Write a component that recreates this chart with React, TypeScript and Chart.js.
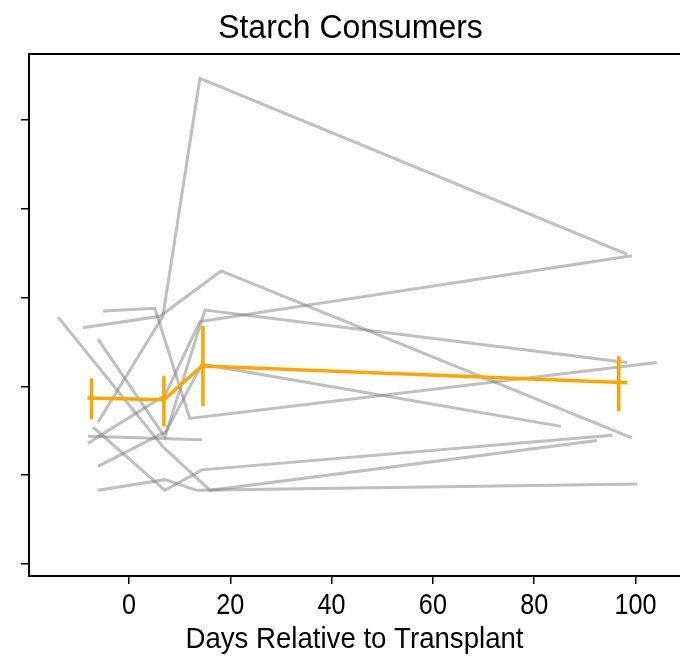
import React, { useEffect, useRef } from "react";
import { Chart, registerables } from "chart.js";

Chart.register(...registerables);

const titleText = "Starch Consumers";
const xAxisLabel = "Days Relative to Transplant";
const xTickValues = [0, 20, 40, 60, 80, 100];
const yTickValues = [0, 1, 2, 3, 4, 5];

// individual subjects (gray lines)
const p1Days = [-14.0, 6.7, 16.0, 92.4];
const p1Vals = [2.78, 1.32, 0.83, 1.39];
const p2Days = [-9.1, 6.1, 18.2, 99.3];
const p2Vals = [2.66, 2.79, 3.3, 1.42];
const p3Days = [-5.1, 5.1, 12.0, 104.2];
const p3Vals = [2.85, 2.88, 1.64, 2.27];
const p4Days = [-6.1, 7.1, 15.0, 98.3];
const p4Vals = [2.53, 1.43, 2.86, 2.27];
const p5Days = [-6.1, 6.7, 14.0, 98.3];
const p5Vals = [1.6, 2.79, 5.47, 3.49];
const p6Days = [-7.1, 7.1, 14.4, 95.4];
const p6Vals = [1.54, 0.83, 1.06, 1.45];
const p7Days = [-8.1, 14.4];
const p7Vals = [1.44, 1.4];
const p8Days = [-8.1, 7.1, 14.0, 99.3];
const p8Vals = [1.36, 1.9, 2.73, 3.47];
const p9Days = [-6.1, 7.3, 14.4, 85.3];
const p9Vals = [1.1, 1.49, 2.25, 1.55];
const p10Days = [-6.1, 7.1, 13.4, 100.3];
const p10Vals = [0.83, 0.95, 0.83, 0.9];

// group mean with error bars (orange)
const meanDays = [-8.2, 6.9, 14.4, 98.4];
const meanVals = [1.87, 1.85, 2.23, 2.04];
const errDays = [-7.4, 6.9, 14.6, 96.7];
const errLow = [1.63, 1.55, 1.78, 1.72];
const errHigh = [2.09, 2.12, 2.68, 2.34];

const subjects = [
  [p1Days, p1Vals],
  [p2Days, p2Vals],
  [p3Days, p3Vals],
  [p4Days, p4Vals],
  [p5Days, p5Vals],
  [p6Days, p6Vals],
  [p7Days, p7Vals],
  [p8Days, p8Vals],
  [p9Days, p9Vals],
  [p10Days, p10Vals],
];

const FONT = "'Liberation Sans', Arial, sans-serif";
const ORANGE = "#FFA500";

function drawNarrowText(ctx: CanvasRenderingContext2D, text: string, x: number, y: number, size: number, sx: number) {
  ctx.save();
  ctx.translate(x, y);
  ctx.scale(sx, 1);
  ctx.font = `${size}px ${FONT}`;
  ctx.fillStyle = "#000";
  ctx.textAlign = "center";
  ctx.textBaseline = "middle";
  ctx.fillText(text, 0, 0);
  ctx.restore();
}

export default function App() {
  const ref = useRef<HTMLCanvasElement | null>(null);

  useEffect(() => {
    document.body.style.margin = "0";
    document.body.style.overflow = "hidden";
    const canvas = ref.current;
    if (!canvas) return;

    const overlayPlugin = {
      id: "overlay",
      afterDatasetsDraw(chart: any) {
        const { ctx, scales, chartArea } = chart;
        ctx.save();
        ctx.strokeStyle = ORANGE;
        ctx.lineWidth = 3.5;
        for (let i = 0; i < errDays.length; i++) {
          const x = scales.x.getPixelForValue(errDays[i]);
          ctx.beginPath();
          ctx.moveTo(x, scales.y.getPixelForValue(errLow[i]));
          ctx.lineTo(x, scales.y.getPixelForValue(errHigh[i]));
          ctx.stroke();
        }
        // top spine
        ctx.strokeStyle = "#000";
        ctx.lineWidth = 2;
        ctx.beginPath();
        ctx.moveTo(chartArea.left - 1, chartArea.top);
        ctx.lineTo(chartArea.right + 2, chartArea.top);
        ctx.stroke();
        ctx.restore();
      },
      afterDraw(chart: any) {
        const { ctx, scales, chartArea } = chart;
        // x tick labels
        for (const v of xTickValues) {
          drawNarrowText(ctx, String(v), scales.x.getPixelForValue(v), chartArea.bottom + 30, 30, 0.84);
        }
        // x axis title
        drawNarrowText(ctx, xAxisLabel, (chartArea.left + chartArea.right) / 2, chartArea.bottom + 64, 30, 0.92);
        // chart title
        drawNarrowText(ctx, titleText, (chartArea.left + chartArea.right) / 2 - 4, 29, 34, 0.94);
      },
    };

    const grayDatasets = subjects.map(([d, v]) => ({
      data: d.map((x, i) => ({ x, y: v[i] })),
      borderColor: "rgba(128,128,128,0.5)",
      borderWidth: 3,
      pointRadius: 0,
      fill: false,
      tension: 0,
      order: 2,
    }));

    const chart = new Chart(canvas, {
      type: "line",
      data: {
        datasets: [
          {
            data: meanDays.map((x, i) => ({ x, y: meanVals[i] })),
            borderColor: ORANGE,
            borderWidth: 3.5,
            pointRadius: 0,
            fill: false,
            tension: 0,
            order: 0,
          } as any,
          ...grayDatasets,
        ],
      },
      options: {
        animation: false,
        responsive: false,
        maintainAspectRatio: false,
        layout: { padding: { top: 54, left: 0, right: 0, bottom: 0 } },
        plugins: {
          legend: { display: false },
          tooltip: { enabled: false },
          title: { display: false },
        },
        scales: {
          x: {
            type: "linear",
            min: -19.74,
            max: 108.79,
            afterBuildTicks: (s: any) => {
              s.ticks = xTickValues.map((v) => ({ value: v }));
            },
            afterFit: (s: any) => {
              s.height = 81;
            },
            ticks: { display: false },
            grid: {
              drawOnChartArea: false,
              drawTicks: true,
              tickLength: 8,
              color: "#000",
              lineWidth: 1.5,
            },
            border: { display: true, color: "#000", width: 2 },
          },
          y: {
            type: "linear",
            min: -0.135,
            max: 5.743,
            afterBuildTicks: (s: any) => {
              s.ticks = yTickValues.map((v) => ({ value: v }));
            },
            afterFit: (s: any) => {
              s.width = 29;
            },
            ticks: { display: false },
            grid: {
              drawOnChartArea: false,
              drawTicks: true,
              tickLength: 8,
              color: "#000",
              lineWidth: 1.5,
            },
            border: { display: true, color: "#000", width: 2 },
          },
        },
      } as any,
      plugins: [overlayPlugin],
    });

    return () => chart.destroy();
  }, []);

  return (
    <div style={{ position: "absolute", left: 0, top: 0, width: 680, height: 657, background: "#fff" }}>
      <canvas ref={ref} width={680} height={657} style={{ display: "block" }} />
    </div>
  );
}
